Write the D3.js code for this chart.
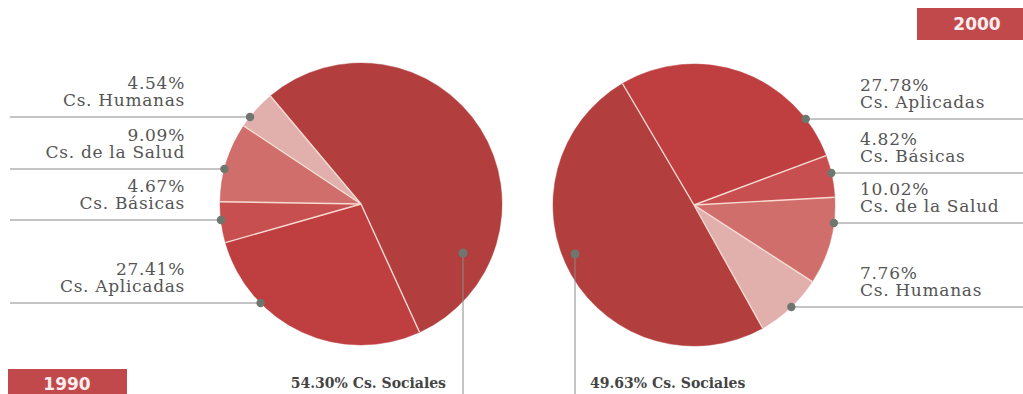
<!DOCTYPE html>
<html>
<head>
<meta charset="utf-8">
<script src="https://cdn.jsdelivr.net/npm/d3@7/dist/d3.min.js"></script>
<style>
  html, body { margin: 0; padding: 0; background: #ffffff; }
  svg { display: block; }
</style>
</head>
<body>
<svg id="chart" width="1023" height="394"></svg>
<script>
// ---------- DATA ----------
const years = ["1990", "2000"];
const categories1990 = ["Cs. Sociales", "Cs. Aplicadas", "Cs. Básicas", "Cs. de la Salud", "Cs. Humanas"];
const values1990 = [54.30, 27.41, 4.67, 9.09, 4.54];
const categories2000 = ["Cs. Aplicadas", "Cs. Básicas", "Cs. de la Salud", "Cs. Humanas", "Cs. Sociales"];
const values2000 = [27.78, 4.82, 10.02, 7.76, 49.63];
const valueLabels1990 = ["54.30%", "27.41%", "4.67%", "9.09%", "4.54%"];
const valueLabels2000 = ["27.78%", "4.82%", "10.02%", "7.76%", "49.63%"];

// ---------- STYLE / LAYOUT ----------
const colorScale = d3.scaleOrdinal()
  .domain(["Cs. Sociales", "Cs. Aplicadas", "Cs. Básicas", "Cs. de la Salud", "Cs. Humanas"])
  .range(["#b33e3e", "#bf3f40", "#c84f4f", "#d06e6c", "#e1b0ac"]);

const labelFont = "'DejaVu Serif', serif";
const svg = d3.select("#chart");

const pies = [
  { year: years[0], cats: categories1990, vals: values1990, labels: valueLabels1990,
    cx: 361, cy: 204, r: 141, startDeg: -40, side: "left",
    // label-line offsets (relative to pie centre) for the small slices
    lineDy: { "Cs. Aplicadas": 99, "Cs. Básicas": 16, "Cs. de la Salud": -35, "Cs. Humanas": -87 },
    socialX: 463, socialY: 253, socialTextX: 446,
    yearBox: { x: 8, y: 369, w: 119, h: 30, tx: 67, ty: 390 } },
  { year: years[1], cats: categories2000, vals: values2000, labels: valueLabels2000,
    cx: 694, cy: 205, r: 141, startDeg: -30.5, side: "right",
    lineDy: { "Cs. Aplicadas": -86, "Cs. Básicas": -32, "Cs. de la Salud": 18, "Cs. Humanas": 102 },
    socialX: 575, socialY: 254, socialTextX: 590,
    yearBox: { x: 917, y: 8, w: 110, h: 32, tx: 977, ty: 30 } }
];

pies.forEach(p => {
  const data = p.cats.map((c, i) => ({ cat: c, value: p.vals[i], label: p.labels[i] }));
  const a0 = p.startDeg * Math.PI / 180;
  const pie = d3.pie().sort(null).value(d => d.value)
    .startAngle(a0).endAngle(a0 + 2 * Math.PI);
  const arcs = pie(data);
  const arc = d3.arc().innerRadius(0).outerRadius(p.r);

  const g = svg.append("g").attr("transform", `translate(${p.cx},${p.cy})`);
  g.selectAll("path.slice").data(arcs).join("path")
    .attr("class", "slice")
    .attr("d", arc)
    .attr("fill", d => colorScale(d.data.cat))
    .attr("stroke", d => colorScale(d.data.cat))
    .attr("stroke-width", 0.5);

  // radial separators (only between slices, not around the rim)
  g.selectAll("line.sep").data(arcs).join("line")
    .attr("class", "sep")
    .attr("x1", 0).attr("y1", 0)
    .attr("x2", d => p.r * Math.sin(d.startAngle))
    .attr("y2", d => -p.r * Math.cos(d.startAngle))
    .attr("stroke", "#f7dcd4")
    .attr("stroke-width", 1.4);

  // labels for the small slices
  arcs.forEach(a => {
    const cat = a.data.cat;
    if (cat === "Cs. Sociales") return;
    const dy = p.lineDy[cat];
    const y = p.cy + dy;
    const dxEdge = Math.sqrt(p.r * p.r - dy * dy);
    const dotX = p.side === "left" ? p.cx - dxEdge : p.cx + dxEdge;
    const lineX1 = p.side === "left" ? 10 : 1023;
    svg.append("line")
      .attr("x1", lineX1).attr("x2", dotX)
      .attr("y1", y).attr("y2", y)
      .attr("stroke", "#8a8a8a").attr("stroke-width", 1);
    svg.append("circle")
      .attr("cx", dotX).attr("cy", y).attr("r", 4.2)
      .attr("fill", "#6f766e");
    const tx = p.side === "left" ? 185 : 860;
    const anchor = p.side === "left" ? "end" : "start";
    const t = svg.append("text")
      .attr("text-anchor", anchor)
      .attr("font-family", labelFont).attr("font-size", 17)
      .attr("letter-spacing", 0.7)
      .attr("fill", "#555555");
    t.append("tspan").attr("x", tx).attr("y", y - 28).text(a.data.label);
    t.append("tspan").attr("x", tx).attr("y", y - 11).text(cat);
  });

  // Sociales callout
  const soc = arcs.find(a => a.data.cat === "Cs. Sociales");
  svg.append("line")
    .attr("x1", p.socialX).attr("x2", p.socialX)
    .attr("y1", p.socialY).attr("y2", 394)
    .attr("stroke", "#8a8a8a").attr("stroke-width", 1);
  svg.append("circle")
    .attr("cx", p.socialX).attr("cy", p.socialY).attr("r", 4.5)
    .attr("fill", "#6f766e");
  svg.append("text")
    .attr("x", p.socialTextX).attr("y", 388)
    .attr("text-anchor", p.side === "left" ? "end" : "start")
    .attr("font-family", labelFont).attr("font-size", 14).attr("font-weight", "bold")
    .attr("fill", "#444444")
    .text(soc.data.label + " " + soc.data.cat);

  // year box
  const b = p.yearBox;
  svg.append("rect")
    .attr("x", b.x).attr("y", b.y).attr("width", b.w).attr("height", b.h)
    .attr("fill", "#c2494b");
  svg.append("text")
    .attr("x", b.tx).attr("y", b.ty)
    .attr("text-anchor", "middle")
    .attr("font-family", "'DejaVu Sans', sans-serif").attr("font-size", 17).attr("font-weight", "bold")
    .attr("fill", "#fbeeee")
    .text(p.year);
});
</script>
</body>
</html>
